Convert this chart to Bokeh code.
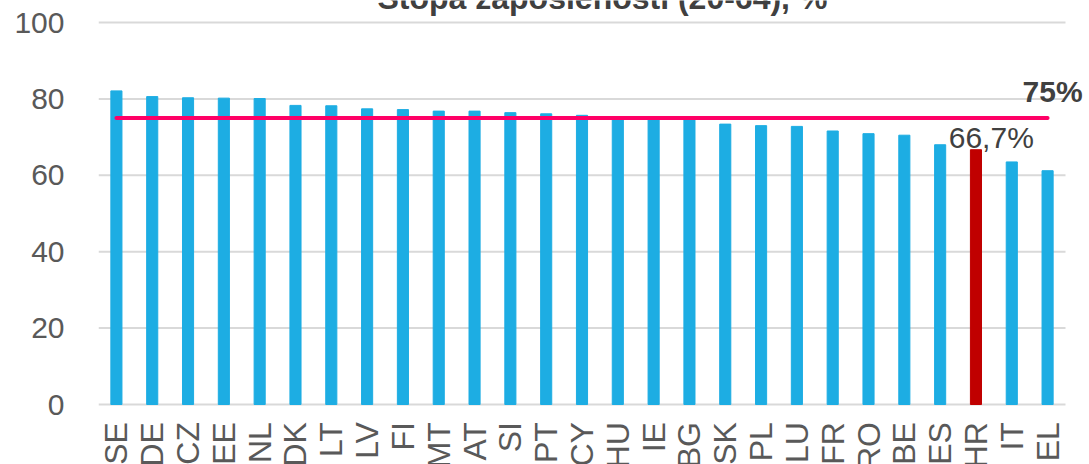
from bokeh.plotting import figure
from bokeh.models import Range1d, FixedTicker, Label, LabelSet, ColumnDataSource
from bokeh.core.properties import value
from bokeh.embed import file_html
from bokeh.resources import INLINE

countries = ["SE", "DE", "CZ", "EE", "NL", "DK", "LT", "LV", "FI", "MT", "AT", "SI", "PT",
             "CY", "HU", "IE", "BG", "SK", "PL", "LU", "FR", "RO", "BE", "ES", "HR", "IT", "EL"]
values = [82.1, 80.6, 80.3, 80.2, 80.1, 78.3, 78.2, 77.4, 77.2, 76.8, 76.8, 76.4, 76.1,
          75.7, 75.3, 75.1, 75.0, 73.4, 73.0, 72.8, 71.6, 70.9, 70.5, 68.0, 66.7, 63.5, 61.2]
highlight = "HR"
target = 75
y_ticks = [0, 20, 40, 60, 80, 100]
title_text = "Stopa zaposlenosti (20-64), %"

FONT = "Liberation Sans"
n = len(countries)
xs = list(range(1, n + 1))
colors = ["#C00000" if c == highlight else "#1DADE3" for c in countries]

# frame covers the canvas right of the y axis; ranges keep the plot area at 98..1065 x 22..404 px
W, H, LEFT = 1089, 464, 98
ux = (1065 - LEFT) / n          # px per category
uy = (404 - 22) / 100.0         # px per percent
x_end = 0.5 + (W - LEFT) / ux
y_top = 404 / uy
y_bot = -(H - 404) / uy

p = figure(width=W, height=H, output_backend="svg", toolbar_location=None,
           x_range=Range1d(0.5, x_end), y_range=Range1d(y_bot, y_top),
           x_axis_location=None,
           min_border_left=LEFT, min_border_right=0, min_border_top=0, min_border_bottom=0)
p.outline_line_color = None
p.background_fill_color = "white"
p.border_fill_color = "white"
p.xgrid.grid_line_color = None
p.ygrid.grid_line_color = None

# gridlines (and the zero baseline) across the category area
p.segment(x0=[0.5] * len(y_ticks), x1=[n + 0.5] * len(y_ticks), y0=y_ticks, y1=y_ticks,
          line_color="#D9D9D9", line_width=2)

p.vbar(x=xs, top=values, width=0.31, color=colors)
p.line(x=[xs[0], xs[-1]], y=[target, target], line_color="#FF0066", line_width=4, line_cap="round")

# category names under the bars
src = ColumnDataSource(dict(x=xs, y=[-4.6] * n, name=countries))
p.add_layout(LabelSet(x="x", y="y", text="name", source=src, angle=1.5707963,
                      text_align="right", text_baseline="middle", text_font=value(FONT),
                      text_font_size=value("32px"), text_color="#595959"))

p.yaxis.ticker = FixedTicker(ticks=y_ticks)
p.yaxis.axis_line_color = None
p.yaxis.major_tick_line_color = None
p.yaxis.minor_tick_line_color = None
p.yaxis.major_label_text_font = FONT
p.yaxis.major_label_text_font_size = "30px"
p.yaxis.major_label_text_color = "#595959"
p.yaxis.major_label_standoff = 28

# texts
p.add_layout(Label(x=14.57, y=106.4, text=title_text, text_font=FONT, text_font_size="32px",
                   text_font_style="bold", text_color="#404040", text_align="center",
                   text_baseline="alphabetic"))
p.add_layout(Label(x=26.3, y=81.94, text=f"{target}%", text_font=FONT, text_font_size="30px",
                   text_font_style="bold", text_color="#404040", text_align="left",
                   text_baseline="alphabetic"))
hr_val = values[countries.index(highlight)]
p.add_layout(Label(x=24.24, y=70.0, text=f"{hr_val}%".replace(".", ","), text_font=FONT,
                   text_font_size="30px", text_color="#404040", text_align="left",
                   text_baseline="alphabetic"))

open("out.html", "w").write(file_html(p, INLINE))
